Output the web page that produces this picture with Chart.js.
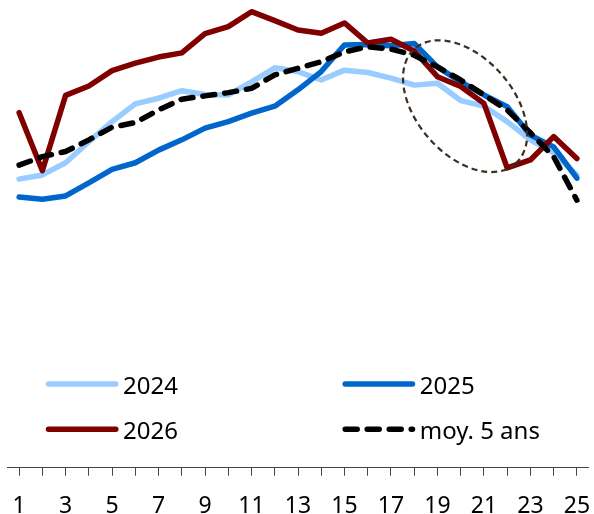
<!DOCTYPE html>
<html>
<head>
<meta charset="utf-8">
<script src="https://cdn.jsdelivr.net/npm/chart.js@4.4.1/dist/chart.umd.min.js"></script>
<style>
  html, body { margin: 0; padding: 0; background: #fff; }
  #wrap { width: 594px; height: 514px; }
</style>
</head>
<body>
<div id="wrap"><canvas id="chart"></canvas></div>
<script>
// weeks on the x axis, only odd ones get a label
const weeks = ['1','2','3','4','5','6','7','8','9','10','11','12','13','14','15','16','17','18','19','20','21','22','23','24','25'];
const tickLabels = ['1','','3','','5','','7','','9','','11','','13','','15','','17','','19','','21','','23','','25'];

// values (no y axis shown, arbitrary units 0-100)
const y2024 = [61.7, 62.6, 65.2, 69.7, 74.0, 77.8, 79.0, 80.6, 79.8, 79.7, 82.5, 85.5, 84.7, 82.9, 85.0, 84.5, 83.3, 81.8, 82.2, 78.5, 77.3, 74.0, 70.1, 67.3, 62.6];
const y2025 = [57.9, 57.4, 58.1, 60.9, 63.8, 65.2, 67.9, 70.1, 72.6, 74.0, 75.8, 77.3, 80.8, 84.7, 90.4, 90.5, 90.2, 90.7, 85.7, 82.5, 79.7, 77.2, 71.1, 68.6, 61.9];
const y2026 = [75.9, 63.5, 79.6, 81.6, 84.9, 86.5, 87.8, 88.7, 92.8, 94.3, 97.5, 95.6, 93.6, 92.9, 95.1, 90.8, 91.6, 89.1, 83.6, 81.5, 77.9, 64.1, 65.8, 70.8, 66.1];
const avg5y = [64.7, 66.5, 67.6, 70.1, 72.8, 73.8, 76.5, 78.8, 79.5, 80.2, 81.1, 84.0, 85.4, 86.8, 88.9, 90.0, 89.5, 88.2, 85.7, 82.9, 79.7, 76.5, 71.6, 66.5, 57.2];

const seriesNames = ['2024', '2025', '2026', 'moy. 5 ans'];

// dashed ellipse around the drop of weeks 18-22
const highlightWeek = 20.19;
const highlightValue = 77.3;

const FONT = '"Noto Sans", "Open Sans", sans-serif';

// legend drawn by hand: two columns between the lines and the axis
const legendPlugin = {
  id: 'twoColLegend',
  afterDraw(chart) {
    const ctx = chart.ctx;
    const cols = [48.5, 345.2];
    const rows = [384, 429.3];
    ctx.save();
    chart.data.datasets.forEach((ds, i) => {
      const x = cols[i % 2];
      const y = rows[Math.floor(i / 2)];
      ctx.beginPath();
      ctx.setLineDash(ds.borderDash || []);
      ctx.lineCap = 'round';
      ctx.lineWidth = ds.borderWidth;
      ctx.strokeStyle = ds.borderColor;
      ctx.moveTo(x, y);
      ctx.lineTo(x + 67.3, y);
      ctx.stroke();
      ctx.setLineDash([]);
      ctx.fillStyle = '#000';
      ctx.font = '24px ' + FONT;
      ctx.textBaseline = 'alphabetic';
      ctx.fillText(ds.label, x + 74.5, y + 9.5);
    });
    ctx.restore();
  }
};

const ellipsePlugin = {
  id: 'highlightEllipse',
  afterDatasetsDraw(chart) {
    const { ctx, scales: { x, y } } = chart;
    const cx = x.getPixelForValue(highlightWeek - 1);
    const cy = y.getPixelForValue(highlightValue);
    ctx.save();
    ctx.beginPath();
    ctx.ellipse(cx, cy, 76.5, 48.4, 49 * Math.PI / 180, 0, 2 * Math.PI);
    ctx.setLineDash([6, 4]);
    ctx.lineWidth = 2.2;
    ctx.strokeStyle = '#3d2e22';
    ctx.stroke();
    ctx.restore();
  }
};

function line(label, data, color, order, dash) {
  return {
    label: label,
    data: data,
    borderColor: color,
    backgroundColor: color,
    borderWidth: 5.5,
    borderDash: dash || [],
    borderCapStyle: 'round',
    borderJoinStyle: 'round',
    pointRadius: 0,
    tension: 0,
    fill: false,
    order: order
  };
}

new Chart(document.getElementById('chart'), {
  type: 'line',
  data: {
    labels: weeks,
    datasets: [
      line(seriesNames[0], y2024, '#99ccff', 4),
      line(seriesNames[1], y2025, '#0066cc', 3),
      line(seriesNames[2], y2026, '#800000', 2),
      line(seriesNames[3], avg5y, '#000000', 1, [12, 10])
    ]
  },
  options: {
    responsive: true,
    maintainAspectRatio: false,
    animation: false,
    layout: { padding: { left: 7.5, right: 5.5, top: 0, bottom: 0 } },
    plugins: {
      legend: { display: false },
      tooltip: { enabled: false }
    },
    scales: {
      x: {
        offset: true,
        grid: { drawOnChartArea: false, tickLength: 8, color: '#444', lineWidth: 1 },
        border: { color: '#444', width: 1 },
        ticks: {
          autoSkip: false,
          maxRotation: 0,
          padding: 3,
          color: '#000',
          font: { family: FONT, size: 23, lineHeight: 2.43 },
          callback: (v, i) => tickLabels[i]
        },
        afterFit: (scale) => { scale.height = 46.3; }
      },
      y: {
        display: false,
        min: 0,
        max: 100
      }
    }
  },
  plugins: [ellipsePlugin, legendPlugin]
});
</script>
</body>
</html>
